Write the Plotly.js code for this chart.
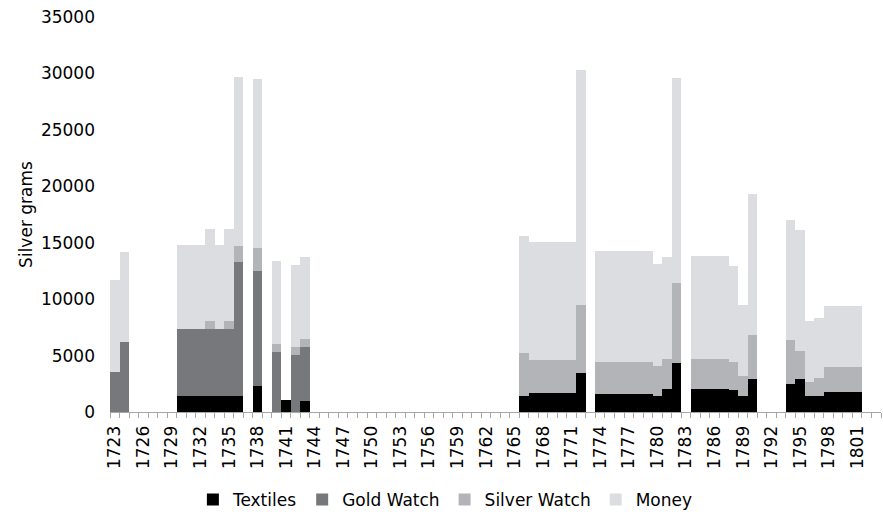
<!DOCTYPE html>
<html>
<head>
<meta charset="utf-8">
<script src="https://cdn.plot.ly/plotly-3.0.1.min.js"></script>
<style>
html, body { margin: 0; padding: 0; background: #ffffff; }
#chart { width: 883px; height: 514px; }
</style>
</head>
<body>
<div id="chart"></div>
<script>
// Years that have a bar (other years in 1723-1803 are empty)
const years = [1723, 1724, 1730, 1731, 1732, 1733, 1734, 1735, 1736, 1738, 1740, 1741, 1742, 1743,
  1766, 1767, 1768, 1769, 1770, 1771, 1772,
  1774, 1775, 1776, 1777, 1778, 1779, 1780, 1781, 1782,
  1784, 1785, 1786, 1787, 1788, 1789, 1790,
  1794, 1795, 1796, 1797, 1798, 1799, 1800, 1801];

const textiles = [0, 0, 1400, 1400, 1400, 1400, 1400, 1400, 1400, 2300, 0, 1100, 0, 950,
  1450, 1680, 1680, 1680, 1680, 1680, 3490,
  1570, 1570, 1570, 1570, 1570, 1570, 1420, 2070, 4320,
  2070, 2070, 2070, 2070, 1920, 1390, 2900,
  2460, 2960, 1390, 1390, 1770, 1770, 1770, 1770];

const goldWatch = [3550, 6200, 5950, 5950, 5950, 5950, 5950, 5950, 11900, 10200, 5320, 0, 5030, 4810,
  0, 0, 0, 0, 0, 0, 0,
  0, 0, 0, 0, 0, 0, 0, 0, 0,
  0, 0, 0, 0, 0, 0, 0,
  0, 0, 0, 0, 0, 0, 0, 0];

const silverWatch = [0, 0, 0, 0, 0, 680, 0, 680, 1390, 2010, 745, 0, 740, 745,
  3780, 2960, 2960, 2960, 2960, 2960, 5970,
  2860, 2860, 2860, 2860, 2860, 2860, 2630, 2600, 7120,
  2600, 2600, 2600, 2600, 2510, 1770, 3900,
  3900, 2420, 1270, 1660, 2220, 2220, 2220, 2220];

const money = [8130, 7950, 7490, 7490, 7490, 8170, 7490, 8170, 15010, 14980, 7300, 0, 7270, 7230,
  10370, 10430, 10430, 10430, 10430, 10430, 20830,
  9840, 9840, 9840, 9840, 9840, 9840, 9040, 9070, 18150,
  9130, 9130, 9130, 9130, 8480, 6290, 12500,
  10640, 10730, 5380, 5320, 5380, 5380, 5380, 5380];

// Tick labels every third year
const tickYears = [1723, 1726, 1729, 1732, 1735, 1738, 1741, 1744, 1747, 1750, 1753, 1756, 1759,
  1762, 1765, 1768, 1771, 1774, 1777, 1780, 1783, 1786, 1789, 1792, 1795, 1798, 1801];

const seriesNames = ['Textiles', 'Gold Watch', 'Silver Watch', 'Money'];
const seriesColors = ['#000000', '#77787b', '#b2b4b7', '#dcdde0'];
const seriesValues = [textiles, goldWatch, silverWatch, money];

const FONT = 'DejaVu Sans, sans-serif';

const traces = seriesValues.map((vals, i) => ({
  type: 'bar',
  name: seriesNames[i],
  x: years,
  y: vals,
  width: 1,
  marker: { color: seriesColors[i], line: { width: 0 } },
  hoverinfo: 'x+y+name'
}));

const layout = {
  width: 883,
  height: 514,
  margin: { l: 110, r: 2, t: 17, b: 102, autoexpand: false },
  paper_bgcolor: '#ffffff',
  plot_bgcolor: '#ffffff',
  barmode: 'stack',
  bargap: 0,
  font: { family: FONT, size: 17, color: '#000000' },
  showlegend: true,
  legend: {
    orientation: 'h',
    x: 0.435, xanchor: 'center',
    y: -0.268, yanchor: 'bottom',
    font: { family: FONT, size: 17, color: '#000000' },
    itemwidth: 30,
    traceorder: 'normal'
  },
  xaxis: {
    type: 'linear',
    range: [1722.5, 1803.5],
    tickmode: 'array',
    tickvals: tickYears,
    ticktext: tickYears.map(String),
    tickangle: -90,
    ticks: '',
    ticklabelstandoff: 6,
    showgrid: false,
    zeroline: false,
    showline: true,
    linecolor: '#a6a6a6',
    linewidth: 1,
    tickfont: { family: FONT, size: 17, color: '#000000' },
    minor: { ticks: 'outside', tickmode: 'linear', tick0: 1722.5, dtick: 1, ticklen: 5, tickwidth: 1, tickcolor: '#a6a6a6', showgrid: false }
  },
  yaxis: {
    range: [0, 35000],
    tickmode: 'linear',
    tick0: 0,
    dtick: 5000,
    tickformat: 'd',
    ticks: '',
    showgrid: false,
    zeroline: false,
    showline: false,
    ticklabelstandoff: 14,
    tickfont: { family: FONT, size: 17, color: '#000000' },
    title: { text: 'Silver grams', font: { family: FONT, size: 17, color: '#000000' }, standoff: 3 }
  }
};

Plotly.newPlot('chart', traces, layout, { displayModeBar: false, staticPlot: true });
</script>
</body>
</html>
